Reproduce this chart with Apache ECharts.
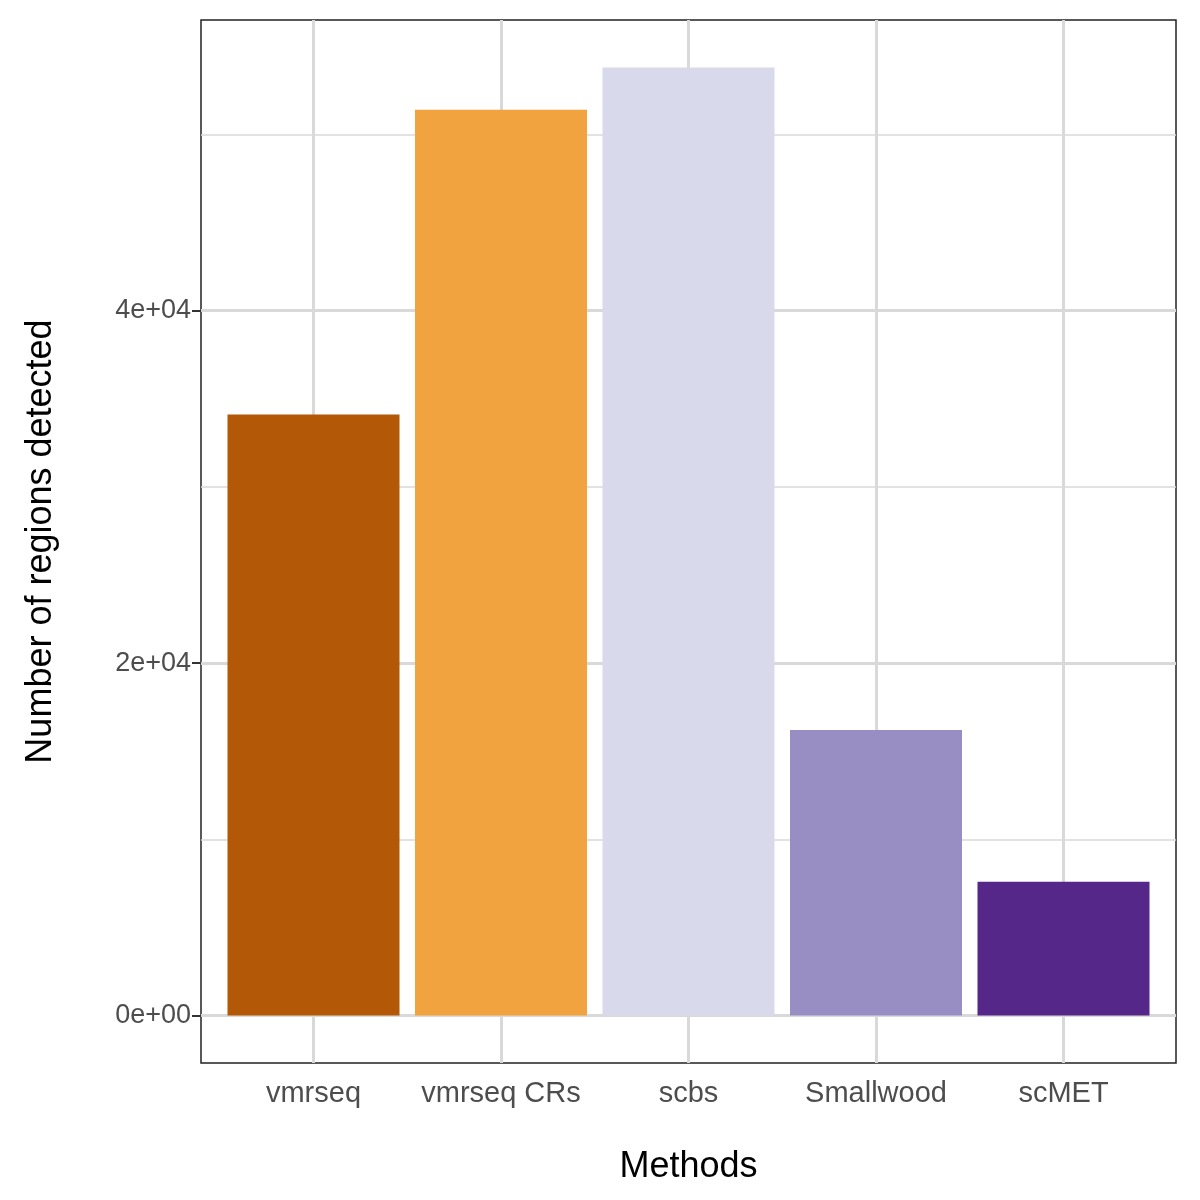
<!DOCTYPE html>
<html><head><meta charset="utf-8">
<script src="https://cdn.jsdelivr.net/npm/echarts@6/dist/echarts.min.js"></script>
<style>html,body{margin:0;padding:0;background:#fff}#c{width:1200px;height:1200px}</style>
</head><body><div id="c"></div>
<script>
const categories = ['vmrseq', 'vmrseq CRs', 'scbs', 'Smallwood', 'scMET'];
const values = [34100, 51400, 53800, 16200, 7600];
const colors = ['#B35806', '#F1A340', '#D8DAEB', '#998EC3', '#542788'];
const majorTicks = [0, 20000, 40000];
const minorTicks = [10000, 30000, 50000];
const tickLabels = ['0e+00', '2e+04', '4e+04'];
const positions = categories.map((c, i) => i + 1);

const chart = echarts.init(document.getElementById('c'));
const font = 'Liberation Sans, Arial, sans-serif';
chart.setOption({
  animation: false,
  grid: {left: 201, right: 24, top: 20, bottom: 137, show: true, borderColor: '#222', borderWidth: 1.5, backgroundColor: 'transparent'},
  xAxis: {
    type: 'value', min: 0.4, max: 5.6, name: 'Methods', nameLocation: 'middle', nameGap: 86,
    nameTextStyle: {fontSize: 36, color: '#000', fontFamily: font},
    axisLine: {show: false},
    axisTick: {show: true, customValues: positions, length: 9, lineStyle: {color: '#333', width: 2}},
    axisLabel: {customValues: positions, fontSize: 29, color: '#4d4d4d', margin: 16, fontFamily: font,
      formatter: v => categories[Math.round(v) - 1]},
    splitLine: {show: false}
  },
  yAxis: {
    type: 'value', min: -2690, max: 56490,
    name: 'Number of regions detected', nameLocation: 'middle', nameGap: 142,
    nameTextStyle: {fontSize: 36, color: '#000', fontFamily: font},
    axisLine: {show: false},
    axisTick: {show: true, customValues: majorTicks, length: 9, lineStyle: {color: '#333', width: 2}},
    axisLabel: {customValues: majorTicks, fontSize: 27, color: '#4d4d4d', margin: 10, fontFamily: font,
      formatter: v => tickLabels[majorTicks.indexOf(v)]},
    splitLine: {show: false}
  },
  series: [
    {
      type: 'line', data: [], z: 1, silent: true,
      markLine: {
        z: 1, silent: true, symbol: 'none', label: {show: false}, animation: false,
        data: [
          ...majorTicks.map(v => ({yAxis: v, lineStyle: {color: '#d9d9d9', width: 3, type: 'solid'}})),
          ...minorTicks.map(v => ({yAxis: v, lineStyle: {color: '#d9d9d9', width: 1.5, type: 'solid'}})),
          ...positions.map(p => ({xAxis: p, lineStyle: {color: '#d9d9d9', width: 3, type: 'solid'}}))
        ]
      }
    },
    {
      type: 'bar', z: 3, barWidth: 172,
      data: values.map((v, i) => ({value: [positions[i], v], itemStyle: {color: colors[i]}}))
    }
  ]
});
</script></body></html>
